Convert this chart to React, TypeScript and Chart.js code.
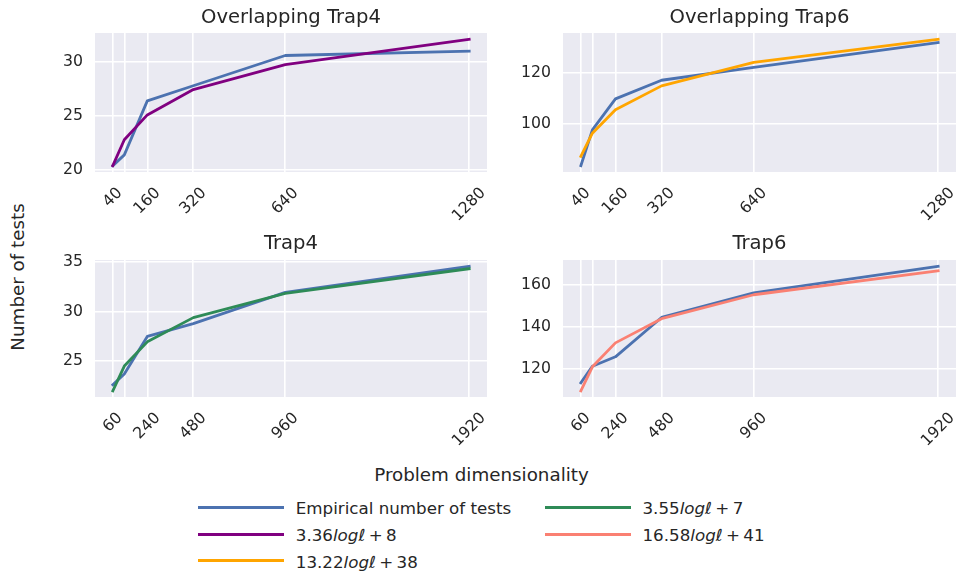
import React, { useEffect, useRef } from "react";
import { Chart, registerables } from "chart.js";

Chart.register(...registerables);

const FONT = '"DejaVu Sans", "Noto Sans", sans-serif';
const TEXT = "#262626";
const PANEL_BG = "#EAEAF2";

// ---- data ----
const xTop = [40, 80, 160, 320, 640, 1280];
const xTopLabels = ["40", "", "160", "320", "640", "1280"];
const xBottom = [60, 120, 240, 480, 960, 1920];
const xBottomLabels = ["60", "", "240", "480", "960", "1920"];

const overlapTrap4Empirical = [20.4, 21.4, 26.4, 27.8, 30.6, 31.0];
const overlapTrap4Fit = [20.4, 22.8, 25.1, 27.45, 29.75, 32.1];
const overlapTrap6Empirical = [83.6, 97.6, 109.7, 117.0, 122.0, 131.7];
const overlapTrap6Fit = [87.2, 96.3, 105.5, 114.8, 124.0, 133.0];
const trap4Empirical = [22.6, 23.7, 27.5, 28.8, 31.95, 34.6];
const trap4Fit = [22.0, 24.5, 26.95, 29.4, 31.85, 34.35];
const trap6Empirical = [113.1, 121.1, 125.6, 144.5, 156.3, 169.1];
const trap6Fit = [109.3, 120.8, 132.3, 143.9, 155.4, 166.9];

const yTicksOT4 = [20, 25, 30];
const yTicksOT6 = [100, 120];
const yTicksT4 = [25, 30, 35];
const yTicksT6 = [120, 140, 160];

const panelTitles = ["Overlapping Trap4", "Overlapping Trap6", "Trap4", "Trap6"];

const empiricalLabel = "Empirical number of tests";
const fitCoefs = ["3.36", "13.22", "3.55", "16.58"];
const fitIntercepts = ["8", "38", "7", "41"];

const EMP_COLOR = "#4C72B0";
const fitColors = ["#800080", "#FFA500", "#2E8B57", "#FA8072"];

function padRange(values: number[], frac = 0.05): [number, number] {
  const mn = Math.min(...values);
  const mx = Math.max(...values);
  const m = (mx - mn) * frac;
  return [mn - m, mx + m];
}

type Area = { left: number; right: number; top: number; bottom: number };

type PanelProps = {
  left: number;
  top: number;
  width: number;
  height: number;
  area: Area;
  titlePadTop: number;
  title: string;
  xs: number[];
  xLabels: string[];
  yTicks: number[];
  empirical: number[];
  fit: number[];
  fitColor: string;
  fitLabel: string;
};

const TICK_SIZE = 15.7;
const TITLE_SIZE = 19.6;

function Panel(p: PanelProps) {
  const ref = useRef<HTMLCanvasElement | null>(null);

  useEffect(() => {
    if (!ref.current) return;
    const [xmin, xmax] = padRange(p.xs);
    const [ymin, ymax] = padRange([...p.empirical, ...p.fit]);
    const titleLine = TITLE_SIZE * 1.2;
    const titlePadBottom = p.area.top - p.titlePadTop - titleLine;

    const bgPlugin = {
      id: "panelBg",
      beforeDraw(chart: any) {
        const { ctx, chartArea } = chart;
        ctx.save();
        ctx.fillStyle = PANEL_BG;
        ctx.fillRect(chartArea.left, chartArea.top, chartArea.right - chartArea.left, chartArea.bottom - chartArea.top);
        ctx.restore();
      },
    };

    const xLabelPlugin = {
      id: "xRotLabels",
      afterDraw(chart: any) {
        const { ctx, chartArea } = chart;
        const xs = chart.scales.x;
        ctx.save();
        ctx.font = `${TICK_SIZE}px ${FONT}`;
        ctx.fillStyle = TEXT;
        ctx.textAlign = "center";
        ctx.textBaseline = "middle";
        p.xs.forEach((v, i) => {
          const label = p.xLabels[i];
          if (!label) return;
          const px = xs.getPixelForValue(v);
          const w = ctx.measureText(label).width;
          const cy = chartArea.bottom + 13 + (w + TICK_SIZE) * Math.SQRT1_2 / 2;
          ctx.save();
          ctx.translate(px, cy);
          ctx.rotate(-Math.PI / 4);
          ctx.fillText(label, 0, 0);
          ctx.restore();
        });
        ctx.restore();
      },
    };

    const chart = new Chart(ref.current, {
      type: "line",
      data: {
        datasets: [
          {
            label: empiricalLabel,
            data: p.xs.map((x, i) => ({ x, y: p.empirical[i] })),
            borderColor: EMP_COLOR,
            backgroundColor: EMP_COLOR,
            borderWidth: 2.8,
            pointRadius: 0,
            tension: 0,
            fill: false,
            borderJoinStyle: "round",
            borderCapStyle: "square",
            order: 1,
          },
          {
            label: p.fitLabel,
            data: p.xs.map((x, i) => ({ x, y: p.fit[i] })),
            borderColor: p.fitColor,
            backgroundColor: p.fitColor,
            borderWidth: 2.8,
            pointRadius: 0,
            tension: 0,
            fill: false,
            borderJoinStyle: "round",
            borderCapStyle: "square",
            order: 0,
          },
        ],
      },
      options: {
        responsive: false,
        animation: false,
        events: [],
        devicePixelRatio: 1,
        layout: {
          padding: { left: 0, top: 0, bottom: 0, right: p.width - p.area.right },
        },
        plugins: {
          legend: { display: false },
          tooltip: { enabled: false },
          title: {
            display: true,
            text: p.title,
            fullSize: false,
            color: TEXT,
            font: { family: FONT, size: TITLE_SIZE, weight: "normal", lineHeight: 1.2 },
            padding: { top: p.titlePadTop, bottom: titlePadBottom },
          },
        },
        scales: {
          x: {
            type: "linear",
            min: xmin,
            max: xmax,
            bounds: "data",
            afterBuildTicks: (scale: any) => {
              scale.ticks = p.xs.map((v) => ({ value: v }));
            },
            afterFit: (scale: any) => {
              scale.height = p.height - p.area.bottom;
            },
            ticks: { display: false },
            grid: { color: "#FFFFFF", lineWidth: 1.6, drawTicks: false },
            border: { display: false },
          },
          y: {
            type: "linear",
            min: ymin,
            max: ymax,
            bounds: "data",
            afterBuildTicks: (scale: any) => {
              scale.ticks = p.yTicks.map((v) => ({ value: v }));
            },
            afterFit: (scale: any) => {
              scale.width = p.area.left;
            },
            ticks: {
              color: TEXT,
              padding: 12,
              font: { family: FONT, size: TICK_SIZE },
              callback: (v: any) => String(v),
            },
            grid: { color: "#FFFFFF", lineWidth: 1.6, drawTicks: false },
            border: { display: false },
          },
        },
      } as any,
      plugins: [bgPlugin, xLabelPlugin],
    });
    return () => chart.destroy();
  }, []);

  return (
    <canvas
      ref={ref}
      width={p.width}
      height={p.height}
      style={{ position: "absolute", left: p.left, top: p.top, width: p.width, height: p.height }}
    />
  );
}

function FitLabel({ coef, icpt }: { coef: string; icpt: string }) {
  return (
    <span>
      {coef}
      <i>logℓ</i>
      <span style={{ margin: "0 0.2em" }}>+</span>
      {icpt}
    </span>
  );
}

function LegendItem({ x, lineY, color, children }: { x: number; lineY: number; color: string; children: React.ReactNode }) {
  const baseline = lineY + 6.7;
  return (
    <>
      <div
        style={{
          position: "absolute",
          left: x,
          top: lineY - 1.5,
          width: 86,
          height: 3,
          background: color,
        }}
      />
      <div
        style={{
          position: "absolute",
          left: x + 97.5,
          top: baseline - 15.8,
          fontFamily: FONT,
          fontSize: 16.7,
          lineHeight: "20px",
          color: TEXT,
          whiteSpace: "nowrap",
        }}
      >
        {children}
      </div>
    </>
  );
}

export default function App() {
  const topArea = { left: 55, right: 447, top: 33, bottom: 172 };
  const topAreaR = { left: 63, right: 456, top: 33, bottom: 172 };
  const botArea = { left: 55, right: 447, top: 30, bottom: 167 };
  const botAreaR = { left: 63, right: 456, top: 30, bottom: 167 };
  const fitLabelText = (i: number) => `${fitCoefs[i]}logℓ + ${fitIntercepts[i]}`;

  const rowY = [507.3, 534, 560.7];
  const col1 = 198.3;
  const col2 = 545;

  return (
    <div
      style={{
        position: "absolute",
        left: 0,
        top: 0,
        width: 961,
        height: 573,
        background: "#FFFFFF",
        overflow: "hidden",
      }}
    >
      <Panel
        left={40}
        top={0}
        width={460}
        height={230}
        area={topArea}
        titlePadTop={6.1}
        title={panelTitles[0]}
        xs={xTop}
        xLabels={xTopLabels}
        yTicks={yTicksOT4}
        empirical={overlapTrap4Empirical}
        fit={overlapTrap4Fit}
        fitColor={fitColors[0]}
        fitLabel={fitLabelText(0)}
      />
      <Panel
        left={500}
        top={0}
        width={461}
        height={230}
        area={topAreaR}
        titlePadTop={6.1}
        title={panelTitles[1]}
        xs={xTop}
        xLabels={xTopLabels}
        yTicks={yTicksOT6}
        empirical={overlapTrap6Empirical}
        fit={overlapTrap6Fit}
        fitColor={fitColors[1]}
        fitLabel={fitLabelText(1)}
      />
      <Panel
        left={40}
        top={230}
        width={460}
        height={220}
        area={botArea}
        titlePadTop={1.9}
        title={panelTitles[2]}
        xs={xBottom}
        xLabels={xBottomLabels}
        yTicks={yTicksT4}
        empirical={trap4Empirical}
        fit={trap4Fit}
        fitColor={fitColors[2]}
        fitLabel={fitLabelText(2)}
      />
      <Panel
        left={500}
        top={230}
        width={461}
        height={220}
        area={botAreaR}
        titlePadTop={1.9}
        title={panelTitles[3]}
        xs={xBottom}
        xLabels={xBottomLabels}
        yTicks={yTicksT6}
        empirical={trap6Empirical}
        fit={trap6Fit}
        fitColor={fitColors[3]}
        fitLabel={fitLabelText(3)}
      />

      {/* shared y label */}
      <div
        style={{
          position: "absolute",
          left: 17.5,
          top: 276.7,
          transform: "translate(-50%, -50%) rotate(-90deg)",
          fontFamily: FONT,
          fontSize: 18.3,
          lineHeight: "22px",
          color: TEXT,
          whiteSpace: "nowrap",
        }}
      >
        Number of tests
      </div>

      {/* shared x label */}
      <div
        style={{
          position: "absolute",
          left: 0,
          width: 963,
          top: 465.4,
          textAlign: "center",
          fontFamily: FONT,
          fontSize: 18.3,
          lineHeight: "20px",
          color: TEXT,
          whiteSpace: "nowrap",
        }}
      >
        Problem dimensionality
      </div>

      {/* legend */}
      <LegendItem x={col1} lineY={rowY[0]} color={EMP_COLOR}>
        {empiricalLabel}
      </LegendItem>
      <LegendItem x={col1} lineY={rowY[1]} color={fitColors[0]}>
        <FitLabel coef={fitCoefs[0]} icpt={fitIntercepts[0]} />
      </LegendItem>
      <LegendItem x={col1} lineY={rowY[2]} color={fitColors[1]}>
        <FitLabel coef={fitCoefs[1]} icpt={fitIntercepts[1]} />
      </LegendItem>
      <LegendItem x={col2} lineY={rowY[0]} color={fitColors[2]}>
        <FitLabel coef={fitCoefs[2]} icpt={fitIntercepts[2]} />
      </LegendItem>
      <LegendItem x={col2} lineY={rowY[1]} color={fitColors[3]}>
        <FitLabel coef={fitCoefs[3]} icpt={fitIntercepts[3]} />
      </LegendItem>
    </div>
  );
}
